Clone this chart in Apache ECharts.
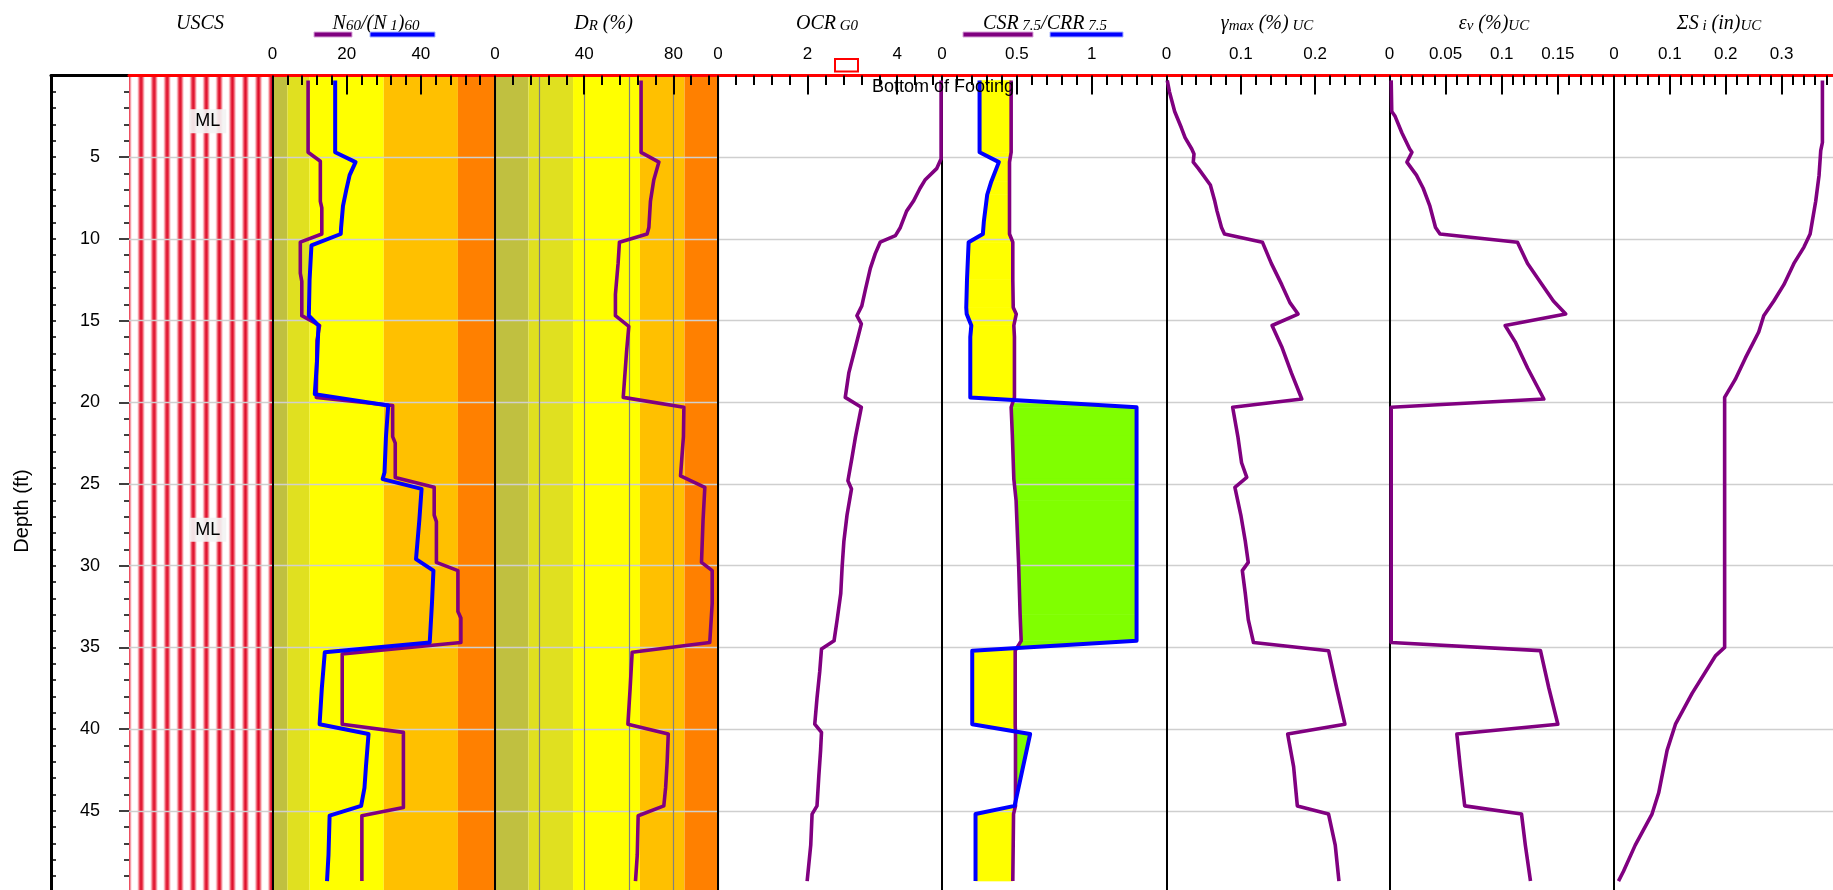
<!DOCTYPE html>
<html><head><meta charset="utf-8">
<script src="https://cdn.jsdelivr.net/npm/echarts@6/dist/echarts.min.js"></script>
<style>html,body{margin:0;padding:0;background:#fff}#c{width:1833px;height:890px}</style>
</head><body><div id="c"></div>
<script>
// ================= DATA =================
const uscsTop = [0, 5.6];
const uscsBottom = [5.6, 50];
const uscsLabels = ['ML', 'ML'];

const n60BandEdges = [0, 4, 10, 30, 50, 60];
const drBandEdges = [0, 15, 35, 65, 85, 100];

const n60Depth = [0.3, 4.7, 5.25, 7.7, 8.1, 9.7, 10.2, 12.1, 12.6, 14.7, 15.3, 16.2, 19.7, 20.2, 22.1, 22.5, 24.6, 25.2, 26.9, 27.3, 29.8, 30.3, 32.8, 33.2, 34.7, 35.4, 39.7, 40.2, 44.8, 45.3, 49.3];
const n60 = [9.6, 9.6, 12.9, 12.9, 13.3, 13.3, 7.5, 7.5, 7.9, 7.9, 12.7, 12.0, 11.8, 32.4, 32.4, 33.1, 33.1, 43.6, 43.6, 44.2, 44.2, 50.0, 50.0, 50.8, 50.8, 18.8, 18.8, 35.3, 35.3, 24.1, 24.1];

const n160Depth = [0.3, 4.7, 5.3, 6.1, 7.0, 8.0, 9.3, 9.7, 10.4, 12.5, 14.7, 15.3, 17.5, 19.5, 20.2, 22.1, 24.3, 24.7, 25.3, 27.2, 29.6, 30.3, 32.3, 34.7, 35.3, 37.5, 39.7, 40.3, 42.3, 43.6, 44.7, 45.3, 47.7, 49.3];
const n160 = [16.9, 16.9, 22.4, 20.8, 19.9, 19.0, 18.5, 18.4, 10.5, 10.0, 9.8, 12.4, 12.0, 11.4, 31.2, 30.6, 30.2, 29.7, 40.2, 39.6, 38.7, 43.4, 43.0, 42.4, 14.1, 13.3, 12.7, 25.9, 25.2, 24.8, 23.9, 15.4, 15.1, 14.7];

const drDepth = [0.3, 4.7, 5.3, 6.4, 7.7, 9.3, 9.7, 10.2, 11.5, 13.4, 14.7, 15.35, 16.9, 19.7, 20.3, 22.1, 24.5, 25.2, 27.2, 29.8, 30.3, 32.3, 34.7, 35.3, 37.5, 39.7, 40.3, 42.0, 43.6, 44.7, 45.3, 47.7, 49.3];
const dr = [65.5, 65.5, 73.5, 71.2, 69.7, 69.0, 68.2, 55.8, 55.2, 54.0, 54.0, 60.0, 59.0, 57.5, 84.7, 84.5, 83.2, 94.1, 93.3, 92.6, 97.4, 97.4, 96.3, 61.5, 60.6, 59.6, 77.7, 77.2, 76.5, 75.7, 64.2, 63.8, 63.0];

const ocrDepth = [0.3, 5.1, 5.7, 6.4, 6.9, 7.7, 8.3, 9.3, 9.8, 10.2, 10.9, 11.8, 13.1, 14.1, 14.7, 15.2, 16.6, 18.2, 19.7, 20.3, 22.1, 23.4, 24.8, 25.3, 26.9, 28.5, 30.1, 31.7, 33.3, 34.6, 35.1, 36.5, 38.1, 39.7, 40.2, 41.3, 42.9, 44.7, 45.2, 47.1, 49.3];
const ocr = [4.98, 4.98, 4.88, 4.62, 4.51, 4.36, 4.21, 4.07, 3.96, 3.62, 3.51, 3.40, 3.29, 3.21, 3.10, 3.20, 3.07, 2.92, 2.84, 3.20, 3.07, 2.99, 2.90, 2.98, 2.88, 2.81, 2.77, 2.74, 2.66, 2.59, 2.31, 2.27, 2.21, 2.16, 2.31, 2.29, 2.25, 2.21, 2.10, 2.07, 1.99];

const csrDepth = [0.3, 4.7, 5.3, 6.5, 7.3, 8.9, 9.7, 10.2, 12.5, 14.2, 14.6, 15.3, 16.0, 19.7, 20.3, 22.0, 24.7, 26.0, 29.9, 33.0, 34.6, 35.2, 39.7, 40.3, 44.7, 45.2, 49.3];
const csr = [0.462, 0.462, 0.451, 0.451, 0.451, 0.451, 0.451, 0.473, 0.473, 0.476, 0.496, 0.480, 0.484, 0.484, 0.462, 0.470, 0.480, 0.495, 0.512, 0.522, 0.529, 0.489, 0.489, 0.491, 0.491, 0.478, 0.473];
const crr = [0.251, 0.251, 0.380, 0.329, 0.302, 0.280, 0.273, 0.178, 0.167, 0.162, 0.165, 0.196, 0.189, 0.189, 1.300, 1.300, 1.300, 1.300, 1.300, 1.300, 1.300, 0.202, 0.202, 0.589, 0.485, 0.224, 0.224];

const gammaDepth = [0.3, 1.0, 2.2, 3.2, 3.8, 4.5, 4.8, 5.3, 5.7, 6.7, 7.7, 8.3, 9.3, 9.7, 10.2, 11.5, 12.8, 13.9, 14.6, 15.3, 16.6, 18.2, 19.8, 20.3, 22.1, 23.7, 24.6, 25.2, 26.9, 28.5, 29.8, 30.3, 31.7, 33.3, 34.7, 35.2, 37.5, 39.7, 40.3, 42.3, 44.7, 45.2, 47.1, 49.3];
const gamma = [0.001, 0.004, 0.011, 0.020, 0.025, 0.034, 0.037, 0.036, 0.043, 0.059, 0.065, 0.068, 0.074, 0.078, 0.129, 0.141, 0.155, 0.166, 0.177, 0.142, 0.155, 0.168, 0.182, 0.089, 0.096, 0.101, 0.108, 0.092, 0.100, 0.106, 0.110, 0.102, 0.106, 0.110, 0.117, 0.218, 0.229, 0.240, 0.163, 0.171, 0.176, 0.218, 0.227, 0.232];

const epsDepth = [0.3, 2.2, 2.5, 3.5, 4.5, 4.7, 5.3, 6.1, 6.9, 8.0, 9.3, 9.7, 10.2, 11.5, 12.8, 13.8, 14.6, 15.3, 16.3, 17.9, 19.8, 20.3, 34.7, 35.2, 37.5, 39.7, 40.3, 42.3, 44.7, 45.2, 47.1, 49.3];
const eps = [0.0015, 0.002, 0.005, 0.011, 0.018, 0.020, 0.0155, 0.024, 0.030, 0.036, 0.041, 0.045, 0.114, 0.123, 0.136, 0.146, 0.157, 0.103, 0.112, 0.123, 0.1375, 0.0015, 0.0015, 0.1345, 0.142, 0.150, 0.060, 0.063, 0.067, 0.1176, 0.121, 0.1256];

const sumDepth = [0.3, 4.1, 4.6, 6.1, 7.7, 8.9, 9.7, 10.5, 11.5, 12.8, 13.8, 14.7, 15.7, 17.3, 18.6, 19.7, 35.0, 35.5, 37.8, 39.7, 41.3, 43.9, 45.2, 47.1, 48.7, 49.3];
const sumS = [0.373, 0.373, 0.370, 0.367, 0.361, 0.355, 0.351, 0.340, 0.322, 0.304, 0.286, 0.268, 0.259, 0.235, 0.217, 0.198, 0.198, 0.182, 0.140, 0.110, 0.095, 0.080, 0.068, 0.038, 0.017, 0.008];

// ================= LAYOUT / STYLE =================
const TOP = 75.5, PLOT_H = 817, DEPTH_MAX = 50;
const SANS = 'Liberation Sans', SERIF = 'Liberation Serif';
const PURPLE = '#800080', BLUE = '#0000ff';
const bandColors = ['#c0c040', '#e0e020', '#ffff00', '#ffc000', '#ff8000'];
const gridBoxes = [
  [51, 78], [129, 143.5], [272.5, 222.5], [495, 223], [718, 224],
  [942, 224.5], [1166.5, 223], [1389.5, 224.5], [1614, 223.5]
];
const panels = [
  { grid: 2, max: 60, major: 20, minor: 4 },
  { grid: 3, max: 100, major: 40, minor: 8 },
  { grid: 4, max: 5, major: 2, minor: 0.4 },
  { grid: 5, max: 1.5, major: 0.5, minor: 0.1 },
  { grid: 6, max: 0.3, major: 0.1, minor: 0.02 },
  { grid: 7, max: 0.2, major: 0.05, minor: 0.01 },
  { grid: 8, max: 0.4, major: 0.1, minor: 0.02 }
];
const zip = (d, v) => d.map((dd, i) => [v[i], dd]);

const grid = gridBoxes.map(([l, w]) => ({ left: l, width: w, top: TOP, height: PLOT_H, outerBoundsMode: 'none', containLabel: false }));

const xAxis = [
  { type: 'value', gridIndex: 0, position: 'top', min: 0, max: 1, z: 4,
    axisLine: { show: true, onZero: false, lineStyle: { color: '#000', width: 3 } },
    axisTick: { show: false }, axisLabel: { show: false }, splitLine: { show: false } },
  { type: 'value', gridIndex: 1, position: 'top', min: 0, max: 1, z: 4,
    axisLine: { show: true, onZero: false, lineStyle: { color: '#ff0000', width: 3 } },
    axisTick: { show: false }, axisLabel: { show: false }, splitLine: { show: false } }
];
panels.forEach(p => {
  xAxis.push({ type: 'value', gridIndex: p.grid, position: 'top', min: 0, max: p.max, interval: p.major, z: 4,
    axisLine: { show: true, onZero: false, lineStyle: { color: '#ff0000', width: 3 } },
    axisTick: { show: true, inside: true, length: 19, lineStyle: { color: '#000', width: 2 } },
    axisLabel: { show: true, margin: 13, fontSize: 17, fontFamily: SANS, color: '#000', showMaxLabel: false, showMinLabel: true },
    splitLine: { show: false } });
  xAxis.push({ type: 'value', gridIndex: p.grid, position: 'top', min: 0, max: p.max, interval: p.minor, z: 4,
    axisLine: { show: false, onZero: false },
    axisTick: { show: true, inside: true, length: 9.5, lineStyle: { color: '#000', width: 2 } },
    axisLabel: { show: false }, splitLine: { show: false } });
});
// DR vertical grid lines
xAxis.push({ type: 'value', gridIndex: 3, position: 'top', min: 0, max: 100, interval: 20, z: 3,
  axisLine: { show: false, onZero: false }, axisTick: { show: false }, axisLabel: { show: false },
  splitLine: { show: true, lineStyle: { color: '#808080', width: 1.2 } } });

const splitGrey = { show: true, lineStyle: { color: '#cfcfcf', width: 1.3 } };
const yAxis = gridBoxes.map((g, i) => {
  const base = { type: 'value', gridIndex: i, inverse: true, min: 0, max: DEPTH_MAX, interval: 5, position: 'left', z: 3 };
  if (i === 0) return Object.assign(base, {
    axisLine: { show: true, onZero: false, lineStyle: { color: '#000', width: 3 } },
    axisTick: { show: true, inside: true, length: 5, lineStyle: { color: '#000', width: 1.5 } },
    minorTick: { show: true, splitNumber: 5, length: 5, lineStyle: { color: '#000', width: 1.5 } },
    axisLabel: { show: false }, splitLine: { show: false } });
  if (i === 1) return Object.assign(base, {
    axisLine: { show: false, onZero: false },
    axisTick: { show: true, inside: false, length: 10, lineStyle: { color: '#000', width: 1.5 } },
    minorTick: { show: true, splitNumber: 5, length: 5, lineStyle: { color: '#000', width: 1.5 } },
    axisLabel: { show: true, margin: 29, fontSize: 18, fontFamily: SANS, color: '#000', showMinLabel: false, showMaxLabel: false },
    splitLine: splitGrey });
  return Object.assign(base, {
    axisLine: { show: true, onZero: false, lineStyle: { color: '#000', width: 2 } },
    axisTick: { show: false }, axisLabel: { show: false }, splitLine: splitGrey });
});

const majorX = k => 2 + 2 * k;

function bandSeries(edges, xIdx, yIdx) {
  return {
    type: 'custom', xAxisIndex: xIdx, yAxisIndex: yIdx, z: 1, silent: true, clip: true,
    data: edges.slice(0, -1).map((e, i) => [e, edges[i + 1], i]),
    renderItem: (params, api) => {
      const p0 = api.coord([api.value(0), 0]);
      const p1 = api.coord([api.value(1), DEPTH_MAX]);
      return { type: 'rect', shape: { x: p0[0], y: p0[1], width: p1[0] - p0[0], height: p1[1] - p0[1] },
        style: { fill: bandColors[api.value(2)] } };
    }
  };
}

const stripeStops = [
  { offset: 0, color: 'rgba(255,255,255,0)' }, { offset: 0.18, color: '#f9bcc3' },
  { offset: 0.36, color: '#ea3a4e' }, { offset: 0.5, color: '#dc0c2a' },
  { offset: 0.64, color: '#ea3a4e' }, { offset: 0.82, color: '#f9bcc3' },
  { offset: 1, color: 'rgba(255,255,255,0)' }
];
const uscsSeries = {
  type: 'custom', xAxisIndex: 1, yAxisIndex: 1, z: 1, silent: true,
  data: uscsTop.map((t, i) => [0, t, uscsBottom[i], i]),
  renderItem: (params, api) => {
    const p0 = api.coord([0, api.value(1)]);
    const p1 = api.coord([1, api.value(2)]);
    const w = p1[0] - p0[0], n = 11, period = w / n;
    const children = [];
    for (let i = 0; i <= n; i++) {
      const cx = p0[0] - 1 + i * period;
      const x0 = Math.max(p0[0], cx - 4.5), x1 = Math.min(p1[0], cx + 4.5);
      if (x1 <= x0) continue;
      children.push({ type: 'rect', shape: { x: x0, y: p0[1], width: x1 - x0, height: p1[1] - p0[1] },
        style: { fill: { type: 'linear', x: cx - 4.5, y: 0, x2: cx + 4.5, y2: 0, global: true, colorStops: stripeStops } } });
    }
    children.push({ type: 'text', z2: 10, style: {
      text: uscsLabels[api.value(3)], x: (p0[0] + p1[0]) / 2 + 7, y: (p0[1] + p1[1]) / 2,
      align: 'center', verticalAlign: 'middle', fontSize: 18, fontFamily: SANS, fill: '#000',
      backgroundColor: 'rgba(243,243,243,0.92)', padding: [3, 6] } });
    return { type: 'group', children };
  }
};

const fillSeries = {
  type: 'custom', xAxisIndex: majorX(3), yAxisIndex: 5, z: 1, silent: true,
  data: csrDepth.slice(0, -1).map((d, i) => [csr[i], d, i]),
  renderItem: (params, api) => {
    const i = api.value(2);
    const d0 = csrDepth[i], d1 = csrDepth[i + 1];
    const a0 = csr[i], a1 = csr[i + 1], b0 = crr[i], b1 = crr[i + 1];
    const f0 = b0 - a0, f1 = b1 - a1;
    const col = f => (f >= 0 ? '#80ff00' : '#ffff00');
    const polys = [];
    if (f0 * f1 < 0) {
      const t = f0 / (f0 - f1);
      const xm = a0 + t * (a1 - a0), dm = d0 + t * (d1 - d0);
      polys.push({ pts: [[a0, d0], [xm, dm], [b0, d0]], c: col(f0) });
      polys.push({ pts: [[xm, dm], [a1, d1], [b1, d1]], c: col(f1) });
    } else {
      polys.push({ pts: [[a0, d0], [a1, d1], [b1, d1], [b0, d0]], c: col(f0 + f1) });
    }
    return { type: 'group', children: polys.map(p => ({
      type: 'polygon', shape: { points: p.pts.map(q => api.coord(q)) },
      style: { fill: p.c, stroke: p.c, lineWidth: 0.6 } })) };
  }
};

function lineSeries(depth, vals, xIdx, yIdx, color, width) {
  return { type: 'line', xAxisIndex: xIdx, yAxisIndex: yIdx, z: 5, silent: true,
    data: zip(depth, vals), symbol: 'none', showSymbol: false,
    lineStyle: { color, width, join: 'round' } };
}

const series = [
  uscsSeries,
  bandSeries(n60BandEdges, majorX(0), 2),
  bandSeries(drBandEdges, majorX(1), 3),
  fillSeries,
  lineSeries(n60Depth, n60, majorX(0), 2, PURPLE, 3.6),
  lineSeries(n160Depth, n160, majorX(0), 2, BLUE, 4),
  lineSeries(drDepth, dr, majorX(1), 3, PURPLE, 3.6),
  lineSeries(ocrDepth, ocr, majorX(2), 4, PURPLE, 3.6),
  lineSeries(csrDepth, csr, majorX(3), 5, PURPLE, 3.6),
  lineSeries(csrDepth, crr, majorX(3), 5, BLUE, 4),
  lineSeries(gammaDepth, gamma, majorX(4), 6, PURPLE, 3.6),
  lineSeries(epsDepth, eps, majorX(5), 7, PURPLE, 3.6),
  lineSeries(sumDepth, sumS, majorX(6), 8, PURPLE, 3.6)
];

const titleRich = {
  m: { fontFamily: SERIF, fontStyle: 'italic', fontSize: 20, lineHeight: 24, verticalAlign: 'bottom', fill: '#000' },
  s: { fontFamily: SERIF, fontStyle: 'italic', fontSize: 15, lineHeight: 17, verticalAlign: 'bottom', fill: '#000' }
};
const titles = [
  [200, '{m|USCS}'],
  [376, '{m|N}{s|60}{m|/(N}{s| 1}{m|)}{s|60}'],
  [603.5, '{m|D}{s|R}{m| (%)}'],
  [827, '{m|OCR}{s| G0}'],
  [1045, '{m|CSR}{s| 7.5}{m|/CRR}{s| 7.5}'],
  [1267, '{m|γ}{s|max}{m| (%)}{s| UC}'],
  [1494, '{m|ε}{s|v}{m| (%)}{s|UC}'],
  [1719, '{m|ΣS}{s| i}{m| (in)}{s|UC}']
];
const graphicEls = titles.map(([x, t]) => ({
  type: 'text', x, y: 22, z: 100, silent: true,
  style: { text: t, rich: titleRich, align: 'center', verticalAlign: 'middle' }
}));
[[314, 38, PURPLE], [370, 65, BLUE], [963, 70, PURPLE], [1050, 73, BLUE]].forEach(([x, w, c]) => {
  graphicEls.push({ type: 'rect', z: 100, silent: true, shape: { x, y: 32, width: w, height: 5 },
    style: { fill: c, stroke: c === PURPLE ? '#d9a6d9' : '#a6b4ff', lineWidth: 1 } });
});
graphicEls.push({ type: 'rect', z: 100, silent: true, shape: { x: 835, y: 59, width: 23, height: 12.5 },
  style: { fill: 'none', stroke: '#ff0000', lineWidth: 2 } });
graphicEls.push({ type: 'text', z: 100, silent: true, x: 872, y: 87,
  style: { text: 'Bottom of Footing', fontSize: 18, fontFamily: SANS, fill: '#000', align: 'left', verticalAlign: 'middle' } });
graphicEls.push({ type: 'text', z: 100, silent: true, x: 22, y: 511, rotation: Math.PI / 2,
  style: { text: 'Depth (ft)', fontSize: 20, fontFamily: SANS, fill: '#000', align: 'center', verticalAlign: 'middle' } });

const chart = echarts.init(document.getElementById('c'), null, { renderer: 'canvas' });
chart.setOption({
  animation: false,
  backgroundColor: '#ffffff',
  grid, xAxis, yAxis, series,
  graphic: { elements: graphicEls }
});
</script></body></html>
